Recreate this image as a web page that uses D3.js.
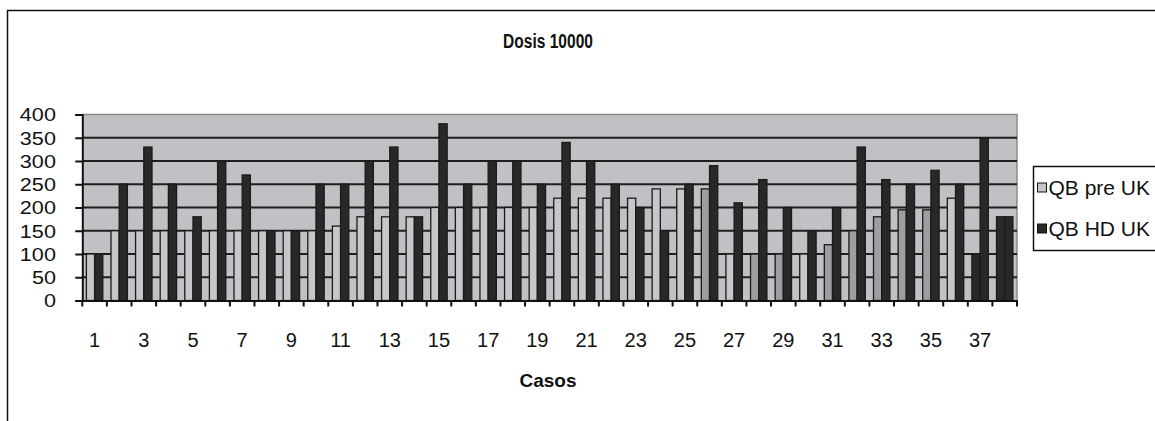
<!DOCTYPE html>
<html>
<head>
<meta charset="utf-8">
<script src="https://cdn.jsdelivr.net/npm/d3@7"></script>
<style>
  body { margin: 0; background: #fff; }
  svg text { font-family: "Liberation Sans", Arial, sans-serif; fill: #111; }
</style>
</head>
<body>
<div id="chart"></div>
<script>
const casos = d3.range(1, 39);
const qbPre = [100, 150, 150, 150, 150, 150, 150, 150, 150, 150,
               160, 180, 180, 180, 200, 200, 200, 200, 200, 220,
               220, 220, 220, 240, 240, 240, 100, 100, 100, 100,
               120, 150, 180, 195, 195, 220, 100, 180];
const qbHd  = [100, 250, 330, 250, 180, 300, 270, 150, 150, 250,
               250, 300, 330, 180, 380, 250, 300, 300, 250, 340,
               300, 250, 200, 150, 250, 290, 210, 260, 200, 150,
               200, 330, 260, 250, 280, 250, 350, 180];
const yTicks = [0, 50, 100, 150, 200, 250, 300, 350, 400];
const seriesNames = ["QB pre UK", "QB HD UK"];

const width = 1155, height = 421;
const plot = { left: 82.3, right: 1017, top: 114.5, bottom: 300.5 };

// colours of the individual "pre" points (the source chart has mixed shading)
const preMid = new Set([25, 27, 28, 30, 31, 32, 33, 34]);
const preDark = new Set([36, 37]);
const light = "#c6c7ca", mid = "#9d9ea1", dark = "#282828";
const preColor = i => preDark.has(i) ? dark : preMid.has(i) ? mid : light;

const svg = d3.select("#chart").append("svg")
    .attr("width", width).attr("height", height);

svg.append("rect").attr("width", width).attr("height", height).attr("fill", "#fff");

// outer chart frame
svg.append("rect")
    .attr("x", 7.5).attr("y", 10.5)
    .attr("width", width + 20).attr("height", height + 20)
    .attr("fill", "none").attr("stroke", "#111").attr("stroke-width", 1.5);

const x = d3.scaleBand().domain(casos).range([plot.left, plot.right]).padding(0);
const bw = x.bandwidth();
const xs = d3.scaleBand().domain([0, 1]).range([bw / 6, bw - bw / 6]).padding(0);
const y = d3.scaleLinear().domain([0, 400]).range([plot.bottom, plot.top]);

// plot background
svg.append("rect")
    .attr("x", plot.left).attr("y", plot.top)
    .attr("width", plot.right - plot.left).attr("height", plot.bottom - plot.top)
    .attr("fill", "#c0c1c4");

svg.append("path")
    .attr("d", `M${plot.left},${plot.top}H${plot.right}V${plot.bottom}`)
    .attr("fill", "none").attr("stroke", "#8a8a8a").attr("stroke-width", 1.5);

// gridlines
svg.append("g").selectAll("line")
    .data(yTicks.filter(d => d > 0 && d < 400))
    .join("line")
    .attr("x1", plot.left).attr("x2", plot.right)
    .attr("y1", d => y(d)).attr("y2", d => y(d))
    .attr("stroke", "#1e1e1e").attr("stroke-width", 2);

// bars
const groups = svg.append("g").selectAll("g")
    .data(casos)
    .join("g")
    .attr("transform", d => `translate(${x(d)},0)`);

groups.append("rect")
    .attr("x", xs(0)).attr("width", xs.bandwidth())
    .attr("y", (d, i) => y(qbPre[i])).attr("height", (d, i) => y(0) - y(qbPre[i]))
    .attr("fill", (d, i) => preColor(i))
    .attr("stroke", "#1a1a1a").attr("stroke-width", 1.3);

groups.append("rect")
    .attr("x", xs(1)).attr("width", xs.bandwidth())
    .attr("y", (d, i) => y(qbHd[i])).attr("height", (d, i) => y(0) - y(qbHd[i]))
    .attr("fill", dark)
    .attr("stroke", "#1a1a1a").attr("stroke-width", 1.3);

// y axis
const yAxis = svg.append("g")
    .attr("transform", `translate(${plot.left},0)`)
    .call(d3.axisLeft(y).tickValues(yTicks).tickSize(7).tickPadding(0).tickFormat(d3.format("d")));
yAxis.select(".domain").attr("stroke", "#111").attr("stroke-width", 2);
yAxis.selectAll(".tick line").attr("stroke", "#111").attr("stroke-width", 2);
yAxis.selectAll(".tick text").remove();
yAxis.selectAll(".tick").append("text")
    .attr("x", -22).attr("dy", "0.36em")
    .attr("text-anchor", "end")
    .attr("transform", "scale(1.2,1)")
    .style("font-size", "18px")
    .text(d => d);

// x axis
const xAxis = svg.append("g")
    .attr("transform", `translate(0,${plot.bottom})`)
    .call(d3.axisBottom(x).tickSize(0).tickPadding(0).tickFormat(""));
xAxis.select(".domain").attr("stroke", "#111").attr("stroke-width", 2);
xAxis.selectAll(".tick line").remove();
xAxis.append("g").selectAll("line")
    .data(casos.concat([39]))
    .join("line")
    .attr("x1", d => d === 39 ? plot.right : x(d))
    .attr("x2", d => d === 39 ? plot.right : x(d))
    .attr("y1", 0).attr("y2", 6)
    .attr("stroke", "#111").attr("stroke-width", 2);
xAxis.append("g").selectAll("text")
    .data(casos.filter(d => d % 2 === 1))
    .join("text")
    .attr("x", d => x(d) + bw / 2)
    .attr("y", 46)
    .attr("text-anchor", "middle")
    .style("font-size", "20px")
    .text(d => d);

// titles
svg.append("text")
    .attr("transform", "translate(548,48) scale(0.74,1)")
    .attr("text-anchor", "middle")
    .style("font-size", "21px").style("font-weight", "bold")
    .text("Dosis 10000");

svg.append("text")
    .attr("x", 548).attr("y", 387)
    .attr("text-anchor", "middle")
    .style("font-size", "19px").style("font-weight", "bold")
    .text("Casos");

// legend
const legend = svg.append("g").attr("transform", "translate(1033.5,166.5)");
legend.append("rect")
    .attr("width", 140).attr("height", 84)
    .attr("fill", "#fff").attr("stroke", "#111").attr("stroke-width", 1.5);
const items = legend.selectAll("g.item")
    .data(seriesNames)
    .join("g")
    .attr("class", "item")
    .attr("transform", (d, i) => `translate(0,${21 + i * 41})`);
items.append("rect")
    .attr("x", 4).attr("y", -4.5).attr("width", 9).attr("height", 9)
    .attr("fill", (d, i) => i === 0 ? light : dark)
    .attr("stroke", "#111").attr("stroke-width", 1);
items.append("text")
    .attr("x", 15).attr("dy", "0.36em")
    .style("font-size", "21px")
    .text(d => d);
</script>
</body>
</html>
